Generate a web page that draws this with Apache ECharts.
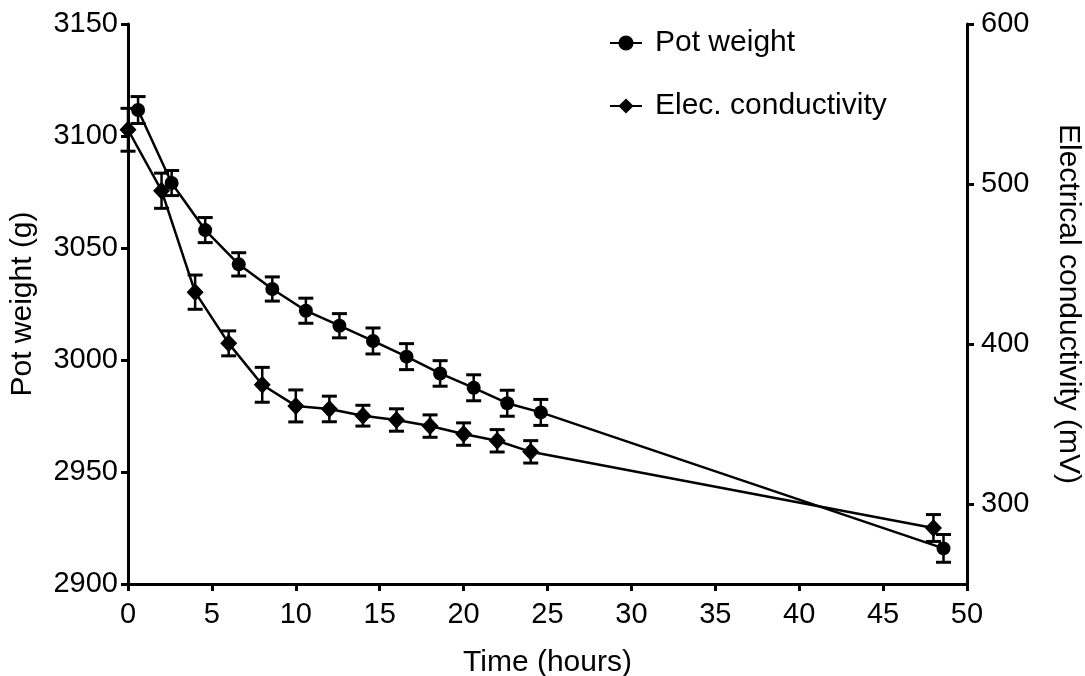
<!DOCTYPE html>
<html>
<head>
<meta charset="utf-8">
<script src="https://cdn.jsdelivr.net/npm/echarts@6/dist/echarts.min.js"></script>
<style>
  html, body { margin: 0; padding: 0; background: #fff; }
  #chart { width: 1085px; height: 676px; }
</style>
</head>
<body>
<div id="chart"></div>
<script>
// Pot weight (g), left axis
const potTimes  = [0.6, 2.6, 4.6, 6.6, 8.6, 10.6, 12.6, 14.6, 16.6, 18.6, 20.6, 22.6, 24.6, 48.6];
const potWeight = [3111.6, 3079, 3058, 3042.7, 3031.7, 3022, 3015.3, 3008.5, 3001.5, 2994, 2987.6, 2980.7, 2976.6, 2915.9];
const potErr    = [6, 5.6, 5.6, 5.2, 5.4, 5.6, 5.4, 5.8, 5.8, 5.7, 5.8, 5.8, 5.8, 6.2];

// Electrical conductivity (mV), right axis
const ecTimes  = [0, 2, 4, 6, 8, 10, 12, 14, 16, 18, 20, 22, 24, 48];
const ecValues = [533.9, 495.8, 432.4, 400.4, 374.5, 361.3, 359.4, 355.2, 352.5, 348.7, 343.7, 339.5, 332.6, 285];
const ecErr    = [13.4, 11, 10.7, 7.8, 10.9, 10, 8, 6.5, 7, 7, 7, 7, 7, 8.4];

const rightTicks = [300, 400, 500, 600];

const FONT = '"Liberation Sans", Arial, sans-serif';
const TICK_FS = 29;
const TITLE_FS = 30;

function errorRenderer(params, api) {
  const x = api.value(0), lo = api.value(1), hi = api.value(2);
  const pHi = api.coord([x, hi]);
  const pLo = api.coord([x, lo]);
  const hw = 7.5;
  const st = { stroke: '#000', lineWidth: 2.5 };
  const cs = { stroke: '#000', lineWidth: 3 };
  return {
    type: 'group',
    children: [
      { type: 'line', shape: { x1: pHi[0], y1: pHi[1], x2: pLo[0], y2: pLo[1] }, style: st },
      { type: 'line', shape: { x1: pHi[0] - hw, y1: pHi[1], x2: pHi[0] + hw, y2: pHi[1] }, style: cs },
      { type: 'line', shape: { x1: pLo[0] - hw, y1: pLo[1], x2: pLo[0] + hw, y2: pLo[1] }, style: cs }
    ]
  };
}

const potLine = potTimes.map((t, i) => [t, potWeight[i]]);
const ecLine = ecTimes.map((t, i) => [t, ecValues[i]]);
const potBars = potTimes.map((t, i) => [t, potWeight[i] - potErr[i], potWeight[i] + potErr[i]]);
const ecBars = ecTimes.map((t, i) => [t, ecValues[i] - ecErr[i], ecValues[i] + ecErr[i]]);

const axisLineStyle = { color: '#000', width: 3 };
const tickStyle = { color: '#000', width: 3 };
const plain = v => String(v);

const chart = echarts.init(document.getElementById('chart'), null, { renderer: 'canvas' });
chart.setOption({
  animation: false,
  backgroundColor: '#fff',
  textStyle: { fontFamily: FONT, color: '#000' },
  grid: { left: 128, right: 118, top: 24, bottom: 92, containLabel: false, outerBoundsMode: 'none' },
  legend: {
    orient: 'vertical',
    left: 609,
    top: 28,
    padding: 0,
    itemWidth: 32,
    itemHeight: 19,
    itemGap: 33,
    data: ['Pot weight', 'Elec. conductivity'],
    textStyle: { fontSize: TITLE_FS, color: '#000', fontFamily: FONT, lineHeight: 30, padding: [0, 0, 0, 8] }
  },
  xAxis: {
    type: 'value',
    min: 0, max: 50, interval: 5,
    name: 'Time (hours)',
    nameLocation: 'middle',
    nameGap: 64,
    nameTextStyle: { fontSize: TITLE_FS, color: '#000', fontFamily: FONT },
    axisLine: { show: true, onZero: false, lineStyle: axisLineStyle },
    axisTick: { show: true, inside: false, length: 7, lineStyle: tickStyle },
    axisLabel: { fontSize: TICK_FS, color: '#000', margin: 16, fontFamily: FONT, formatter: plain },
    splitLine: { show: false }
  },
  yAxis: [
    {
      type: 'value',
      position: 'left',
      min: 2900, max: 3150, interval: 50,
      name: 'Pot weight (g)',
      nameLocation: 'middle',
      nameGap: 90,
      nameTextStyle: { fontSize: TITLE_FS, color: '#000', fontFamily: FONT },
      axisLine: { show: true, onZero: false, lineStyle: axisLineStyle },
      axisTick: { show: true, inside: false, length: 7, lineStyle: tickStyle },
      axisLabel: { fontSize: TICK_FS, color: '#000', margin: 10, fontFamily: FONT, formatter: plain },
      splitLine: { show: false }
    },
    {
      type: 'value',
      position: 'right',
      min: 250, max: 600,
      name: 'Electrical conductivity (mV)',
      nameLocation: 'middle',
      nameRotate: -90,
      nameGap: 86,
      nameTextStyle: { fontSize: TITLE_FS, color: '#000', fontFamily: FONT },
      axisLine: { show: true, onZero: false, lineStyle: axisLineStyle },
      axisTick: { show: true, inside: false, length: 7, lineStyle: tickStyle, customValues: rightTicks },
      axisLabel: { fontSize: TICK_FS, color: '#000', margin: 14, fontFamily: FONT, customValues: rightTicks, formatter: plain },
      splitLine: { show: false }
    }
  ],
  series: [
    {
      name: 'Pot weight',
      type: 'line',
      yAxisIndex: 0,
      data: potLine,
      symbol: 'circle',
      symbolSize: 14,
      showAllSymbol: true,
      lineStyle: { color: '#000', width: 2.5 },
      itemStyle: { color: '#000' },
      clip: false,
      z: 3
    },
    {
      name: 'Elec. conductivity',
      type: 'line',
      yAxisIndex: 1,
      data: ecLine,
      symbol: 'diamond',
      symbolSize: [17, 18],
      showAllSymbol: true,
      lineStyle: { color: '#000', width: 2.5 },
      itemStyle: { color: '#000' },
      clip: false,
      z: 3
    },
    {
      name: 'potErr',
      type: 'custom',
      yAxisIndex: 0,
      data: potBars,
      renderItem: errorRenderer,
      clip: false,
      z: 2
    },
    {
      name: 'ecErr',
      type: 'custom',
      yAxisIndex: 1,
      data: ecBars,
      renderItem: errorRenderer,
      clip: false,
      z: 2
    }
  ]
});
</script>
</body>
</html>
